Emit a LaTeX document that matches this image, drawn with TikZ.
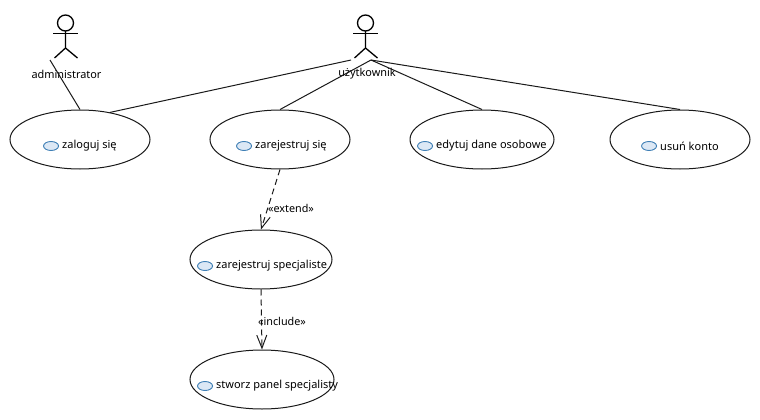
\documentclass[tikz,border=0pt]{standalone}
\usepackage{fontspec}
\setmainfont{Noto Sans}
\usetikzlibrary{arrows.meta,positioning,shapes.geometric}

\definecolor{iconline}{HTML}{3F7FB5}
\definecolor{iconfill}{HTML}{DCE8F5}

\tikzset{
  usecase/.style={draw=black!90,fill=white,shape=ellipse,minimum width=#1,minimum height=59,inner sep=0,line width=1},
  usecase/.default=140,
  uctext/.style={anchor=west,inner sep=0,font=\fontsize{11}{13}\selectfont},
  ucicon/.style={draw=iconline,fill=iconfill,shape=ellipse,minimum width=15,minimum height=9,inner sep=0,line width=.9},
  actortext/.style={inner sep=0,font=\fontsize{10.9}{13}\selectfont},
  link/.style={draw=black!90,line width=1},
  dep/.style={link,dashed,dash pattern=on 6 off 4,-{Straight Barb[length=13,width=10,line width=1]}},
  deptext/.style={inner sep=0,font=\fontsize{10.8}{13}\selectfont},
  actor/.pic={
    \draw[line width=1.3] (0,-23) circle (8);
    \draw[line width=1.3] (0,-31) -- (0,-48) -- (-11,-58);
    \draw[line width=1.3] (0,-48) -- (12,-58);
    \draw[line width=1] (-12.5,-33.5) -- (12.5,-33.5);
  },
}

\begin{document}
\begin{tikzpicture}[x=1pt,y=1pt]
    \useasboundingbox (0,0) rectangle (760,-420);

    % actors
    \pic at (65.5,0) {actor};
    \pic at (365.5,0) {actor};
    \node[actortext] (administrator) at (66.5,-74) {administrator};
    \node[actortext] (uzytkownik) at (367,-74) {użytkownik};
    \coordinate (administratorfoot) at (50,-60);
    \coordinate (uzytkownikleft) at (351,-60);
    \coordinate (uzytkownikfoot) at (371,-60);

    % use cases
    \node[usecase] (zaloguj) at (80,-139.5) {};
    \node[usecase] (zarejestruj) at (280,-139.5) {};
    \node[usecase=144] (edytuj) at (482,-139.5) {};
    \node[usecase] (usun) at (680,-139.5) {};
    \node[usecase=142] (specjalista) at (261,-259.5) {};
    \node[usecase=144] (panel) at (262,-379.5) {};

    \node[uctext] (zalogujtext) at (62,-146) {zaloguj się};
    \node[uctext] (zarejestrujtext) at (255,-146) {zarejestruj się};
    \node[uctext] (edytujtext) at (436,-146) {edytuj dane osobowe};
    \node[uctext] (usuntext) at (660,-146) {usuń konto};
    \node[uctext] (specjalistatext) at (216,-266) {zarejestruj specjaliste};
    \node[uctext] (paneltext) at (216,-386) {stworz panel specjalisty};

    \node[ucicon,left=3 of zalogujtext.west] (zalogujicon) {};
    \node[ucicon,left=3 of zarejestrujtext.west] (zarejestrujicon) {};
    \node[ucicon,left=3 of edytujtext.west] (edytujicon) {};
    \node[ucicon,left=3 of usuntext.west] (usunicon) {};
    \node[ucicon,left=3 of specjalistatext.west] (specjalistaicon) {};
    \node[ucicon,left=3 of paneltext.west] (panelicon) {};

    % connectors
    \draw[link] (administratorfoot) -- (zaloguj.north);
    \draw[link] (uzytkownikleft) -- (zaloguj.42);
    \draw[link] (uzytkownikfoot) -- (zarejestruj.north);
    \draw[link] (uzytkownikfoot) -- (edytuj.north);
    \draw[link] (uzytkownikfoot) -- (usun.north);

    \draw[dep] (zarejestruj.south) -- (specjalista.north);
    \draw[dep] (specjalista.south) -- (panel.north);
    \node[deptext] (extend) at (291,-208) {«extend»};
    \node[deptext] (include) at (282,-321) {«include»};
\end{tikzpicture}
\end{document}
